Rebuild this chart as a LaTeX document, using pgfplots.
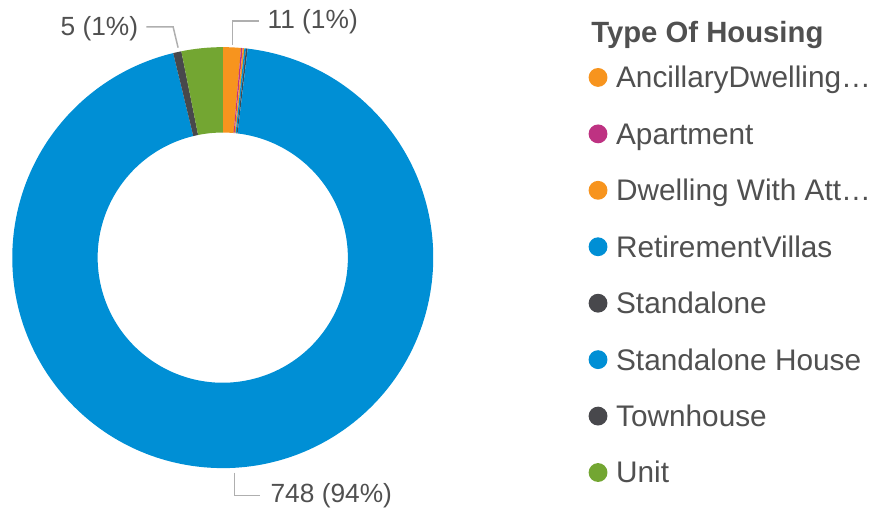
\documentclass[border=0pt]{standalone}
\usepackage{pgfplots}
\pgfplotsset{compat=1.18}
\usepackage{pgfplotstable}
\usepackage{fontspec}
\setmainfont{Liberation Sans}

\definecolor{cBlue}{RGB}{0,143,213}
\definecolor{cOrange}{RGB}{247,148,30}
\definecolor{cMagenta}{RGB}{190,50,130}
\definecolor{cDark}{RGB}{72,72,76}
\definecolor{cGreen}{RGB}{115,166,50}
\definecolor{txt}{RGB}{80,80,80}
\definecolor{lead}{RGB}{175,175,175}

% slices clockwise from 12 o'clock
\pgfplotstableread[col sep=comma]{
name,value,colour
AncillaryDwelling…,11,cOrange
Apartment,1,cMagenta
Dwelling With Att…,1,cOrange
RetirementVillas,1,cBlue
Standalone,1,cDark
Standalone House,748,cBlue
Townhouse,5,cDark
Unit,25,cGreen
}\housing

\begin{document}
\begin{tikzpicture}
% angles of the slices
\pgfplotstablegetrowsof{\housing}
\pgfmathtruncatemacro{\nlast}{\pgfplotsretval-1}
\gdef\total{0}
\foreach \i in {0,...,\nlast}{%
  \pgfplotstablegetelem{\i}{value}\of\housing
  \pgfmathsetmacro\t{\total+\pgfplotsretval}\xdef\total{\t}}
\gdef\cum{0}
\foreach \i in {0,...,\nlast}{%
  \pgfplotstablegetelem{\i}{value}\of\housing
  \pgfmathsetmacro\sa{90-(\cum/\total)*360}
  \pgfmathsetmacro\t{\cum+\pgfplotsretval}\xdef\cum{\t}
  \pgfmathsetmacro\ea{90-(\cum/\total)*360}
  \expandafter\xdef\csname sa\i\endcsname{\sa}
  \expandafter\xdef\csname ea\i\endcsname{\ea}
  \pgfplotstablegetelem{\i}{colour}\of\housing
  \xglobal\colorlet{slice\i}{\pgfplotsretval}
  \pgfplotstablegetelem{\i}{name}\of\housing
  \expandafter\xdef\csname nm\i\endcsname{\pgfplotsretval}
}
\begin{axis}[
    x=1pt, y=1pt,
    xmin=0, xmax=871, ymin=0, ymax=519,
    hide axis,
    clip=false,
]
\path (axis cs:0,0) (axis cs:871,519);
% donut
\pgfplotsinvokeforeach{0,...,7}{
  \fill[slice#1]
    ([shift={(\csname sa#1\endcsname:212pt)}]axis cs:220,259.5)
    arc[start angle=\csname sa#1\endcsname, end angle=\csname ea#1\endcsname, radius=212pt]
    -- ([shift={(\csname ea#1\endcsname:126pt)}]axis cs:220,259.5)
    arc[start angle=\csname ea#1\endcsname, end angle=\csname sa#1\endcsname, radius=126pt]
    -- cycle;
}
% data labels
\draw[lead, line width=1.5pt] (axis cs:230,474) -- (axis cs:230,498) -- (axis cs:257,498);
\node[anchor=base west, inner sep=0, txt, font=\fontsize{26.5}{30}\selectfont] at (axis cs:265,490) {11 (1\%)};
\draw[lead, line width=1.5pt] (axis cs:175,471) -- (axis cs:170,492) -- (axis cs:143,492);
\node[anchor=base east, inner sep=0, txt, font=\fontsize{26.5}{30}\selectfont] at (axis cs:135,483) {5 (1\%)};
\draw[lead, line width=1.5pt] (axis cs:232,43) -- (axis cs:232,20) -- (axis cs:258,20);
\node[anchor=base west, inner sep=0, txt, font=\fontsize{26.5}{30}\selectfont] at (axis cs:268,13) {748 (94\%)};
% legend
\node[anchor=base west, inner sep=0, txt, font=\fontsize{29.5}{32}\bfseries] at (axis cs:591,476) {Type Of Housing};
\pgfplotsinvokeforeach{0,...,7}{
  \fill[slice#1] (axis cs:598,{441-56.85*#1}) circle[radius=9.5pt];
  \node[anchor=base west, inner sep=0, txt, font=\fontsize{30}{32}\selectfont]
    at (axis cs:616,{430.5-56.85*#1}) {\csname nm#1\endcsname};
}
\end{axis}
\end{tikzpicture}
\end{document}
